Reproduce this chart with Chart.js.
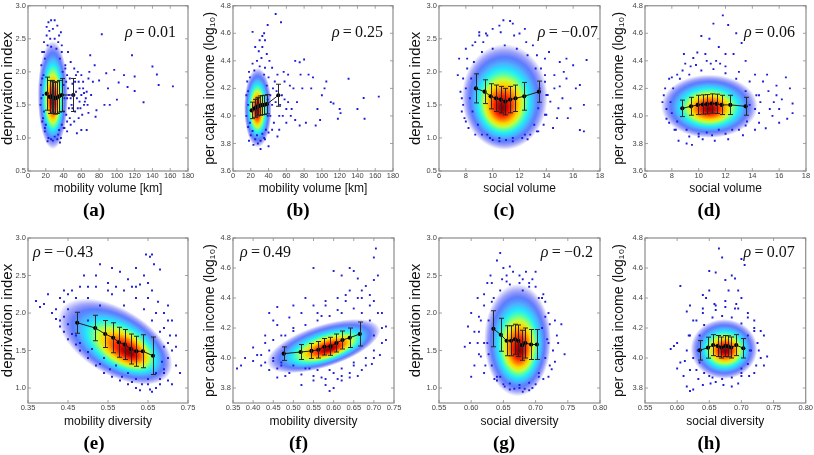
<!DOCTYPE html>
<html>
<head>
<meta charset="utf-8">
<script src="https://cdn.jsdelivr.net/npm/chart.js@4.4.0/dist/chart.umd.min.js"></script>
<style>
  html, body { margin: 0; padding: 0; background: #fff; }
  #figura { position: relative; width: 814px; height: 455px; }
  #figura canvas { position: absolute; }
</style>
</head>
<body>
<div id="figura">
  <canvas id="panelA" width="203" height="225" style="left:0;top:0"></canvas>
  <canvas id="panelB" width="205" height="225" style="left:203px;top:0"></canvas>
  <canvas id="panelC" width="204" height="225" style="left:408px;top:0"></canvas>
  <canvas id="panelD" width="202" height="225" style="left:612px;top:0"></canvas>
  <canvas id="panelE" width="203" height="230" style="left:0;top:225px"></canvas>
  <canvas id="panelF" width="205" height="230" style="left:203px;top:225px"></canvas>
  <canvas id="panelG" width="204" height="230" style="left:408px;top:225px"></canvas>
  <canvas id="panelH" width="202" height="230" style="left:612px;top:225px"></canvas>
</div>
<script>
// Marcas de los ejes
const ticksVolMov = [0, 20, 40, 60, 80, 100, 120, 140, 160, 180];
const ticksVolSoc = [6, 8, 10, 12, 14, 16, 18];
const ticksDivMovE = [0.35, 0.45, 0.55, 0.65, 0.75];
const ticksDivMovF = [0.35, 0.40, 0.45, 0.50, 0.55, 0.60, 0.65, 0.70, 0.75];
const ticksDivSoc = [0.55, 0.60, 0.65, 0.70, 0.75, 0.80];
const ticksPriv = [0.5, 1.0, 1.5, 2.0, 2.5, 3.0];
const ticksPrivB = [1.0, 1.5, 2.0, 2.5, 3.0];
const ticksIngreso = [3.6, 3.8, 4.0, 4.2, 4.4, 4.6, 4.8];
const ticksIngresoB = [3.8, 4.0, 4.2, 4.4, 4.6, 4.8];

// Correlaciones
const rhos = ['0.01', '0.25', '\u22120.07', '0.06', '\u22120.43', '0.49', '\u22120.2', '0.07'];

// (a) volumen de movilidad vs privacion
const nubeA = [[83,2.57],[117,2.25],[140,2.08],[145,1.96],[163,1.78],[147,1.8],[130,1.54],[120,1.71],[112,1.77],[97,2.03],
  [102,1.84],[100,1.58],[92,1.5],[86,1.5],[88,1.98],[77,1.42],[76,1.32],[120,1.93],[108,1.95],[90,1.75],[80,1.87],[75,2.1],
  [70,2.25],[66,1.12],[60,1.12],[55,1.07],[68,1.9],[62,1.75],[58,1.55],[65,1.6],[48,1.2],[52,2.05],[45,2.3],[37,2.6],
  [30,2.78],[26,2.78],[23,2.75],[21,2.68],[33,2.7],[38,2.4],[18,2.3],[16,1.9],[15,1.6],[17,1.3],[19,1.15],[22,0.95],
  [26,0.98],[30,1.02],[34,1.05],[40,1.15],[44,1.25],[48,1.6],[50,1.82],[42,2.05],[53,1.4],[57,1.3],[46,1.45],[54,1.7],
  [60,1.95],[63,1.5],[68,1.38],[14,1.5],[14.5,1.8],[15,2.1],[16,2.3],[18,2.45],[21,2.55],[25,2.5],[30,2.5],[34,2.45],
  [38,2.3],[42,2.1],[43,1.85],[44,1.6],[43,1.35],[41,1.15],[37,1.0],[33,0.98],[28,0.96],[23,1.0],[19,1.1],[16,1.25],
  [45,1.75],[47,1.9],[49,1.5],[51,1.65],[53,1.85],[55,1.6],[56,1.45],[58,1.75],[60,1.65],[62,1.85],[64,1.55],[66,1.7],
  [47,1.3],[52,1.25],[44,1.95],[48,2.15],[56,2.0],[61,1.35],
  [36,2.2],[39,2.0],[40,1.8],[41,1.6],[40,1.4],[38,1.2],[35,1.12],[20,1.2],[18,1.4],[17,1.65],[17.5,1.95],[19,2.2],
  [22,2.4],[26,2.38],[32,2.35],[35,2.55],[24,2.62],[28,2.65],[46,1.65],[50,1.45],[54,1.95],[57,1.85],[59,1.45],[63,1.68],
  [67,1.5],[71,1.65],[73,1.85],[69,2.0],[44,1.1],[36,0.93]];
const mediaXA = [21, 24.5, 26.5, 28.5, 30.5, 32.5, 35, 38, 51];
const mediaYA = [1.67, 1.62, 1.63, 1.61, 1.60, 1.61, 1.63, 1.65, 1.65];
const desvA = [0.25, 0.25, 0.24, 0.24, 0.24, 0.24, 0.24, 0.25, 0.25];
const nucleoA = [28, 1.65], mayorA = [0, 0.82], menorA = [17, 0], focoA = [28, 1.55];

// (b) volumen de movilidad vs ingreso
const nubeB = [[48,4.74],[54,4.68],[39,4.66],[22,4.61],[33,4.58],[35,4.6],[30,4.55],[130,4.27],[164,4.14],[147,4.13],
  [148,3.98],[140,4.05],[120,4.05],[121,4.02],[118,3.98],[105,4.25],[103,4.2],[100,4.15],[95,4.05],[98,3.97],[93,3.93],
  [80,4.41],[75,4.39],[70,4.4],[85,4.3],[90,4.28],[88,4.2],[78,4.2],[82,3.95],[75,3.93],[70,3.97],[65,4.0],[60,4.05],
  [68,4.2],[62,4.3],[57,4.32],[113,4.09],[110,4.1],[23,3.79],[28,3.8],[40,3.78],[18,3.82],[35,3.84],[52,3.9],
  [15,4.0],[15,4.15],[16,4.25],[18,4.32],[22,4.38],[27,4.4],[32,4.42],[36,4.35],[40,4.28],[42,4.15],[42,4.0],[40,3.88],
  [36,3.83],[31,3.82],[25,3.83],[20,3.86],[17,3.92],[33,4.5],[29,4.47],[36,4.55],[45,4.2],[48,4.1],[50,4.3],[52,4.0],
  [55,4.15],[58,4.25],[46,3.95],[44,4.35],[62,4.1],[60,3.95],
  [17,4.08],[17,4.18],[19,4.28],[24,4.33],[30,4.36],[35,4.3],[38,4.22],[39,4.12],[39,4.0],[37,3.9],[33,3.87],[27,3.86],
  [22,3.89],[19,3.95],[44,4.08],[47,4.25],[49,4.18],[53,4.08],[56,4.0],[58,4.12],[64,4.22],[66,4.05],[72,4.1],[76,4.3],
  [25,4.5],[38,4.45],[41,4.4],[44,3.9],[50,3.85],[31,3.76]];
const mediaXB = [21, 24.5, 26.5, 28.5, 30.5, 32.5, 35, 38, 51];
const mediaYB = [4.04, 4.055, 4.065, 4.07, 4.075, 4.078, 4.08, 4.085, 4.15];
const desvB = [0.06, 0.065, 0.065, 0.065, 0.07, 0.07, 0.07, 0.07, 0.08];
const nucleoB = [28, 4.06], mayorB = [0, 0.29], menorB = [15.5, 0], focoB = [27, 4.04];

// (c) volumen social vs privacion
const nubeC = [[10.8,2.78],[11.3,2.77],[11.5,2.73],[10.5,2.7],[10.0,2.65],[9.5,2.58],[12,2.58],[9.0,2.55],[7.5,2.2],
  [7.4,1.95],[7.6,1.7],[7.8,1.5],[7.9,1.3],[8.2,1.15],[8.0,2.35],[8.5,2.4],[9.2,1.05],[9.8,1.0],[10.5,0.95],[11.0,0.97],
  [11.5,0.95],[12.2,1.0],[12.8,1.05],[13.3,1.1],[14.2,2.3],[15,2.15],[15.5,2.2],[16,2.1],[17,2.18],[16.5,1.8],[16.8,1.5],
  [16.5,1.12],[16.8,1.1],[15.8,1.45],[15.2,1.6],[14.8,1.3],[14.5,1.15],[16.2,1.75],[15.5,1.9],[14.6,1.95],[14.3,1.55],
  [14.0,1.35],[13.8,1.2],[13.6,2.05],[13.9,1.85],[15.0,1.78],[8.3,1.6],[8.4,1.9],[8.6,2.15],[9.2,2.3],[10,2.35],
  [10.9,2.4],[11.8,2.35],[12.6,2.25],[13.2,2.05],[13.5,1.75],[13.4,1.45],[13.1,1.2],[12.4,1.05],[11.5,1.0],[10.5,1.0],
  [9.6,1.05],[8.9,1.2],[8.5,1.4],[8.0,1.75],[8.1,2.05],[13.0,2.4],[9.3,2.45],[14.0,1.65],[13.9,2.2],
  [7.7,1.6],[7.8,1.9],[8.1,2.2],[8.7,2.45],[9.6,2.55],[10.6,2.6],[11.6,2.55],[12.5,2.45],[13.3,2.25],[13.9,1.95],
  [14.1,1.65],[13.9,1.35],[13.4,1.1],[12.6,0.98],[10.0,0.97],[8.7,1.05],[8.0,1.25],[7.7,1.4],[14.6,1.75],[15.3,2.0],
  [14.9,1.45],[15.6,1.3],[9.0,2.6],[12.4,2.65]];
const mediaXC = [8.75, 9.4, 9.85, 10.25, 10.6, 10.95, 11.3, 11.7, 12.35, 13.45];
const mediaYC = [1.75, 1.70, 1.63, 1.60, 1.58, 1.55, 1.58, 1.60, 1.63, 1.70];
const desvC = [0.22, 0.18, 0.19, 0.2, 0.2, 0.2, 0.2, 0.2, 0.21, 0.16];
const nucleoC = [10.9, 1.62], mayorC = [0, 0.8], menorC = [3.2, 0], focoC = [10.7, 1.45];

// (d) volumen social vs ingreso
const nubeD = [[11.8,4.73],[11.1,4.67],[12.2,4.66],[10.2,4.58],[10.8,4.56],[12.8,4.6],[9.9,4.46],[9.6,4.42],[13.2,4.53],
  [11.5,4.5],[12.0,4.45],[10.5,4.45],[11.3,4.4],[9.0,4.38],[13.5,4.4],[8.4,4.3],[7.8,4.27],[7.4,4.15],[7.6,4.05],[7.8,3.95],
  [8.2,3.9],[8.5,3.82],[9.1,3.8],[9.5,3.79],[10,3.85],[10.6,3.88],[11.5,3.9],[12.5,3.9],[13.5,3.93],[14.5,3.95],[15,3.91],
  [15.5,4.0],[16,4.05],[16.6,3.98],[17.0,4.02],[16.5,4.28],[16.8,4.2],[15.8,4.22],[15.2,4.18],[14.8,4.25],[14.2,4.3],
  [16.2,4.12],[15.6,4.1],[14.6,4.1],[17,4.09],[16.0,3.95],[7.9,4.1],[8.1,4.2],[8.6,4.27],[9.3,4.3],[10.2,4.33],[11.1,4.34],
  [12.0,4.31],[12.8,4.27],[13.5,4.18],[13.8,4.08],[13.6,3.96],[13,3.9],[12,3.87],[11,3.86],[10,3.87],[9.1,3.9],[8.4,3.96],
  [8.0,4.02],[14.2,4.05],[14.5,4.15],[11.6,4.38],[10.6,4.4],[9.4,4.36],
  [7.3,4.1],[7.5,4.2],[8.0,4.28],[8.8,4.33],[9.8,4.37],[10.9,4.38],[12.0,4.36],[13.0,4.32],[13.8,4.25],[14.3,4.15],
  [14.5,4.02],[14.2,3.9],[13.3,3.86],[12.2,3.83],[11.2,3.82],[10.3,3.83],[9.3,3.85],[8.3,3.9],[7.6,3.98],[15.3,4.05],
  [15.8,4.15],[15.1,4.3],[12.6,4.45],[8.9,4.45]];
const mediaXD = [8.78, 9.43, 9.93, 10.3, 10.62, 10.97, 11.34, 11.71, 12.36, 13.5];
const mediaYD = [4.055, 4.07, 4.08, 4.083, 4.085, 4.09, 4.088, 4.08, 4.08, 4.07];
const desvD = [0.06, 0.065, 0.07, 0.07, 0.07, 0.07, 0.07, 0.07, 0.07, 0.065];
const nucleoD = [10.8, 4.07], mayorD = [3.6, 0], menorD = [0, 0.23], focoD = [10.8, 4.05];

// (e) diversidad de movilidad vs privacion
const nubeE = [[0.37,2.16],[0.38,2.08],[0.39,2.12],[0.40,2.25],[0.41,2.0],[0.42,1.92],[0.43,2.2],[0.44,2.15],[0.45,1.85],
  [0.46,2.3],[0.44,1.75],[0.43,1.82],[0.47,1.7],[0.45,2.25],[0.52,2.5],[0.53,2.65],[0.56,2.6],[0.58,2.55],[0.60,2.45],
  [0.62,2.6],[0.64,2.5],[0.645,2.78],[0.655,2.75],[0.66,2.78],[0.665,2.65],[0.68,2.58],[0.63,2.38],[0.55,2.4],[0.57,2.35],
  [0.50,2.35],[0.49,2.5],[0.70,2.1],[0.71,1.9],[0.72,1.7],[0.71,1.5],[0.72,1.3],[0.73,1.2],[0.70,1.1],[0.69,1.2],[0.70,1.6],
  [0.69,2.0],[0.62,1.0],[0.63,0.97],[0.66,0.95],[0.60,1.05],[0.58,1.1],[0.56,1.15],[0.54,1.2],[0.52,1.3],[0.50,1.4],
  [0.48,1.5],[0.67,1.0],[0.65,1.05],[0.68,1.05],[0.45,2.05],[0.47,2.2],[0.50,2.2],[0.53,2.1],[0.56,2.25],[0.59,2.1],
  [0.62,2.2],[0.64,2.05],[0.66,1.9],[0.68,1.75],[0.69,1.55],[0.685,1.35],[0.67,1.2],[0.65,1.12],[0.62,1.12],[0.60,1.2],
  [0.57,1.3],[0.54,1.4],[0.51,1.52],[0.48,1.6],[0.46,1.72],[0.44,1.95],[0.66,2.3],[0.65,2.4],[0.61,2.35],[0.70,1.9],
  [0.675,2.15],[0.5,1.9],
  [0.42,2.05],[0.44,2.3],[0.48,2.35],[0.52,2.35],[0.55,2.3],[0.59,2.3],[0.62,2.35],[0.65,2.2],[0.67,2.0],[0.69,1.8],
  [0.705,1.7],[0.70,1.4],[0.69,1.25],[0.68,1.12],[0.655,0.98],[0.635,1.05],[0.61,1.08],[0.585,1.15],[0.555,1.25],
  [0.53,1.32],[0.50,1.48],[0.47,1.58],[0.45,1.65],[0.43,1.9],[0.72,1.55],[0.71,1.05]];
const mediaXE = [0.473, 0.518, 0.543, 0.563, 0.577, 0.592, 0.607, 0.621, 0.637, 0.6625];
const mediaYE = [1.87, 1.80, 1.72, 1.67, 1.61, 1.58, 1.52, 1.49, 1.49, 1.43];
const desvE = [0.14, 0.17, 0.18, 0.2, 0.2, 0.2, 0.2, 0.2, 0.22, 0.25];
const nucleoE = [0.568, 1.62], mayorE = [0.135, -0.445], menorE = [0.047, 0.365], focoE = [0.605, 1.47];

// (f) diversidad de movilidad vs ingreso
const nubeF = [[0.705,4.73],[0.70,4.67],[0.71,4.55],[0.70,4.52],[0.64,4.6],[0.65,4.58],[0.60,4.58],[0.62,4.55],[0.66,4.53],
  [0.68,4.48],[0.55,4.6],[0.46,4.34],[0.44,4.3],[0.45,4.25],[0.50,4.35],[0.53,4.4],[0.36,3.93],[0.37,3.95],[0.40,4.07],
  [0.41,4.02],[0.42,3.95],[0.38,4.0],[0.43,4.1],[0.44,3.92],[0.46,3.87],[0.48,3.88],[0.52,3.82],[0.55,3.85],[0.58,3.82],
  [0.59,3.78],[0.60,3.8],[0.62,3.85],[0.64,3.87],[0.66,3.88],[0.68,3.95],[0.70,4.0],[0.72,4.2],[0.73,4.21],[0.72,4.1],
  [0.71,4.3],[0.69,4.35],[0.67,4.4],[0.63,4.42],[0.58,4.35],[0.56,4.3],[0.50,4.2],[0.48,4.15],[0.47,3.95],[0.45,4.0],
  [0.60,3.9],[0.65,3.95],[0.54,3.93],[0.57,4.28],[0.61,4.32],[0.44,4.05],[0.45,4.12],[0.47,4.15],[0.50,4.18],[0.53,4.22],
  [0.56,4.25],[0.59,4.28],[0.62,4.3],[0.65,4.33],[0.67,4.3],[0.69,4.25],[0.70,4.15],[0.70,4.05],[0.68,4.0],[0.65,3.97],
  [0.62,3.93],[0.59,3.92],[0.56,3.92],[0.53,3.93],[0.50,3.95],[0.47,3.97],[0.45,3.98],[0.66,4.4],[0.69,4.42],[0.63,4.38],
  [0.57,3.87],[0.62,3.88],
  [0.42,4.02],[0.43,4.15],[0.46,4.22],[0.49,4.27],[0.52,4.3],[0.55,4.35],[0.58,4.38],[0.61,4.4],[0.64,4.45],[0.67,4.45],
  [0.70,4.38],[0.72,4.3],[0.715,4.02],[0.695,3.96],[0.67,3.92],[0.64,3.9],[0.61,3.86],[0.58,3.86],[0.55,3.88],[0.52,3.89],
  [0.49,3.9],[0.46,3.93],[0.43,3.97],[0.40,3.98],[0.73,4.12]];
const mediaXF = [0.476, 0.518, 0.545, 0.562, 0.577, 0.592, 0.607, 0.622, 0.64, 0.665];
const mediaYF = [4.029, 4.04, 4.047, 4.055, 4.075, 4.078, 4.10, 4.12, 4.135, 4.16];
const desvF = [0.045, 0.05, 0.05, 0.055, 0.055, 0.06, 0.06, 0.06, 0.065, 0.08];
const nucleoF = [0.575, 4.08], mayorF = [0.14, 0.12], menorF = [-0.016, 0.135], focoF = [0.59, 4.06];

// (g) diversidad social vs privacion
const nubeG = [[0.59,1.55],[0.595,1.82],[0.60,2.0],[0.60,1.15],[0.605,1.3],[0.61,2.2],[0.615,1.9],[0.62,1.6],[0.625,2.4],
  [0.63,2.5],[0.64,2.7],[0.645,2.8],[0.65,2.6],[0.655,2.42],[0.66,2.62],[0.675,2.5],[0.685,2.55],[0.70,2.55],[0.69,2.4],
  [0.71,2.2],[0.715,2.15],[0.72,2.0],[0.73,1.9],[0.74,1.85],[0.745,1.45],[0.735,1.6],[0.73,1.35],[0.72,1.15],[0.725,1.25],
  [0.70,1.05],[0.69,0.97],[0.68,0.95],[0.675,1.0],[0.66,0.98],[0.65,1.05],[0.64,1.1],[0.62,1.2],[0.615,1.42],[0.612,1.75],
  [0.71,1.8],[0.72,1.6],[0.705,1.15],[0.635,2.2],[0.64,1.15],[0.625,1.6],[0.627,1.9],[0.632,2.15],[0.645,2.3],[0.66,2.38],
  [0.675,2.4],[0.69,2.35],[0.705,2.2],[0.715,1.95],[0.718,1.65],[0.715,1.4],[0.705,1.2],[0.69,1.07],[0.675,1.04],
  [0.66,1.06],[0.645,1.15],[0.632,1.3],[0.627,1.45],[0.655,2.5],[0.695,2.45],[0.68,2.3],
  [0.61,1.6],[0.612,1.95],[0.62,2.25],[0.632,2.4],[0.648,2.45],[0.665,2.55],[0.68,2.45],[0.70,2.35],[0.712,2.25],
  [0.722,1.85],[0.727,1.5],[0.722,1.3],[0.712,1.12],[0.695,1.0],[0.683,0.99],[0.667,0.99],[0.652,1.02],[0.636,1.12],
  [0.622,1.3],[0.612,1.45],[0.605,1.75],[0.598,1.6],[0.733,1.7],[0.62,2.1]];
const mediaXG = [0.6345, 0.646, 0.655, 0.662, 0.668, 0.673, 0.679, 0.684, 0.693, 0.702];
const mediaYG = [1.79, 1.71, 1.63, 1.63, 1.65, 1.63, 1.57, 1.60, 1.58, 1.58];
const desvG = [0.24, 0.22, 0.2, 0.2, 0.2, 0.21, 0.2, 0.2, 0.2, 0.2];
const nucleoG = [0.672, 1.64], mayorG = [0, 0.75], menorG = [0.052, 0], focoG = [0.675, 1.5];

// (h) diversidad social vs ingreso
const nubeH = [[0.665,4.73],[0.67,4.67],[0.70,4.66],[0.705,4.62],[0.65,4.58],[0.66,4.57],[0.675,4.52],[0.685,4.55],
  [0.69,4.53],[0.605,4.48],[0.645,4.4],[0.68,4.45],[0.70,4.4],[0.64,4.42],[0.62,4.35],[0.615,4.31],[0.59,4.06],[0.595,4.08],
  [0.60,3.93],[0.605,3.97],[0.61,3.88],[0.615,3.81],[0.62,3.78],[0.625,3.79],[0.64,3.82],[0.66,3.84],[0.685,3.81],
  [0.70,3.88],[0.72,3.9],[0.735,3.95],[0.74,4.01],[0.735,4.15],[0.73,4.18],[0.72,4.25],[0.71,4.3],[0.695,4.33],[0.66,4.35],
  [0.63,4.25],[0.62,4.15],[0.625,4.0],[0.63,3.92],[0.65,3.88],[0.70,3.93],[0.725,4.1],[0.715,4.05],[0.632,4.05],
  [0.635,4.15],[0.642,4.22],[0.655,4.27],[0.67,4.28],[0.685,4.27],[0.70,4.23],[0.71,4.15],[0.713,4.05],[0.71,3.96],
  [0.70,3.9],[0.685,3.87],[0.67,3.86],[0.655,3.87],[0.642,3.9],[0.635,3.97],[0.66,4.32],[0.69,4.33],[0.675,4.38],
  [0.64,4.3],[0.72,4.2],
  [0.615,4.05],[0.618,4.15],[0.625,4.25],[0.64,4.33],[0.658,4.36],[0.675,4.34],[0.692,4.36],[0.71,4.27],[0.72,4.18],
  [0.727,4.05],[0.723,3.95],[0.712,3.88],[0.695,3.83],[0.672,3.82],[0.652,3.83],[0.633,3.86],[0.62,3.92],[0.612,3.98],
  [0.60,4.1],[0.73,4.0],[0.65,4.45],[0.695,4.45]];
const mediaXH = [0.635, 0.648, 0.656, 0.663, 0.669, 0.675, 0.679, 0.684, 0.692, 0.703];
const mediaYH = [4.051, 4.069, 4.086, 4.08, 4.07, 4.08, 4.078, 4.07, 4.086, 4.065];
const desvH = [0.065, 0.07, 0.07, 0.07, 0.07, 0.07, 0.07, 0.07, 0.07, 0.065];
const nucleoH = [0.673, 4.06], mayorH = [0.052, 0], menorH = [0, 0.2], focoH = [0.675, 4.05];

const SANS = '"Liberation Sans", Arial, sans-serif';
const SERIF = '"Liberation Serif", "Times New Roman", serif';

// Colores tipo "jet" para la densidad (el borde se desvanece como el moteado azul)
const paradasJet = [
  [0.00, '#7a0000'], [0.10, '#c00000'], [0.20, '#ff2a00'], [0.29, '#ff8800'],
  [0.37, '#ffd800'], [0.45, '#c0ff40'], [0.53, '#50ffb0'], [0.61, '#20e6ff'],
  [0.70, 'rgba(70,170,255,0.95)'], [0.80, 'rgba(40,80,255,0.75)'],
  [0.90, 'rgba(30,40,240,0.4)'], [1.00, 'rgba(30,30,230,0)']
];

// Plugin con la densidad, las barras de error, el marco y la rho
function adornos(p) {
  return {
    id: 'adornos',
    beforeDatasetsDraw(chart) {
      const {ctx, chartArea: a, scales: {x, y}} = chart;
      const X = x.getPixelForValue(p.nucleo[0]), Y = y.getPixelForValue(p.nucleo[1]);
      const U = [x.getPixelForValue(p.nucleo[0] + p.mayor[0]) - X, y.getPixelForValue(p.nucleo[1] + p.mayor[1]) - Y];
      const V = [x.getPixelForValue(p.nucleo[0] + p.menor[0]) - X, y.getPixelForValue(p.nucleo[1] + p.menor[1]) - Y];
      const F = [x.getPixelForValue(p.foco[0]) - X, y.getPixelForValue(p.foco[1]) - Y];
      const det = U[0] * V[1] - U[1] * V[0];
      const fa = (F[0] * V[1] - F[1] * V[0]) / det, fb = (U[0] * F[1] - U[1] * F[0]) / det;
      ctx.save();
      ctx.beginPath(); ctx.rect(a.left, a.top, a.width, a.height); ctx.clip();
      ctx.transform(U[0], U[1], V[0], V[1], X, Y);
      const g = ctx.createRadialGradient(fa, fb, 0, 0, 0, 1);
      paradasJet.forEach(s => g.addColorStop(s[0], s[1]));
      ctx.fillStyle = g;
      ctx.beginPath(); ctx.arc(0, 0, 1, 0, Math.PI * 2); ctx.fill();
      ctx.restore();
    },
    afterDatasetDraw(chart, args) {
      if (args.index !== 0) return;
      const {ctx, scales: {x, y}} = chart;
      ctx.save();
      ctx.strokeStyle = '#262626';
      ctx.lineWidth = 1;
      p.mediaX.forEach((mx, i) => {
        const px = Math.round(x.getPixelForValue(mx)) + 0.5;
        const y1 = y.getPixelForValue(p.mediaY[i] + p.desv[i]);
        const y2 = y.getPixelForValue(p.mediaY[i] - p.desv[i]);
        ctx.beginPath();
        ctx.moveTo(px, y1); ctx.lineTo(px, y2);
        ctx.moveTo(px - 2.5, y1); ctx.lineTo(px + 2.5, y1);
        ctx.moveTo(px - 2.5, y2); ctx.lineTo(px + 2.5, y2);
        ctx.stroke();
      });
      ctx.restore();
    },
    afterDraw(chart) {
      const {ctx, chartArea: a, scales: {x, y}} = chart;
      ctx.save();
      // marco gris con marcas hacia dentro
      ctx.strokeStyle = '#8c8c8c';
      ctx.lineWidth = 1.2;
      ctx.strokeRect(a.left, a.top, a.width, a.height);
      ctx.lineWidth = 0.8;
      ctx.beginPath();
      x.ticks.forEach(t => {
        const px = x.getPixelForValue(t.value);
        ctx.moveTo(px, a.bottom); ctx.lineTo(px, a.bottom - 3);
        ctx.moveTo(px, a.top); ctx.lineTo(px, a.top + 3);
      });
      y.ticks.forEach(t => {
        const py = y.getPixelForValue(t.value);
        ctx.moveTo(a.left, py); ctx.lineTo(a.left + 3, py);
        ctx.moveTo(a.right, py); ctx.lineTo(a.right - 3, py);
      });
      ctx.stroke();
      // coeficiente rho
      ctx.fillStyle = '#111';
      ctx.textBaseline = 'middle';
      const resto = '\u2009=\u2009' + p.rho;
      ctx.font = 'italic 16px ' + SERIF;
      const w1 = ctx.measureText('\u03c1').width;
      ctx.font = '16px ' + SERIF;
      const w2 = ctx.measureText(resto).width;
      const x0 = p.rhoLado === 'der' ? a.right - p.rhoDx - w1 - w2 : a.left + p.rhoDx;
      const y0 = a.top + p.rhoDy;
      ctx.font = 'italic 16px ' + SERIF;
      ctx.fillText('\u03c1', x0, y0);
      ctx.font = '16px ' + SERIF;
      ctx.fillText(resto, x0 + w1, y0);
      ctx.restore();
    }
  };
}

function crearPanel(id, p) {
  const ctx = document.getElementById(id).getContext('2d');
  return new Chart(ctx, {
    type: 'scatter',
    data: {
      datasets: [{
        data: p.nube.map(d => ({x: d[0], y: d[1]})),
        backgroundColor: '#1c1cd8',
        borderWidth: 0,
        pointStyle: 'rect',
        pointRadius: 1.35
      }, {
        data: p.mediaX.map((v, i) => ({x: v, y: p.mediaY[i]})),
        showLine: true,
        borderColor: '#1a1a1a',
        borderWidth: 1,
        backgroundColor: '#000',
        pointRadius: 2.1,
        pointBorderWidth: 0
      }]
    },
    options: {
      responsive: false,
      animation: false,
      events: [],
      layout: { padding: { left: 0, right: p.padDer, top: p.padArriba, bottom: p.padAbajo } },
      scales: {
        x: {
          min: p.rangoX[0], max: p.rangoX[1],
          afterBuildTicks: s => { s.ticks = p.ticksX.map(v => ({value: v})); },
          afterFit: s => { s.height = p.altoX; },
          grid: { display: false, drawTicks: false },
          border: { display: false },
          ticks: { padding: 1, color: '#444', font: { size: 7.5, family: SANS, lineHeight: 1 },
                   maxRotation: 0, autoSkip: false, callback: v => Number(v).toFixed(p.decX) },
          title: { display: true, text: p.tituloX, color: '#111', padding: 0,
                   font: { size: 12, family: SANS, lineHeight: 1 } }
        },
        y: {
          min: p.rangoY[0], max: p.rangoY[1],
          afterBuildTicks: s => { s.ticks = p.ticksY.map(v => ({value: v})); },
          afterFit: s => { s.width = p.anchoY; },
          grid: { display: false, drawTicks: false },
          border: { display: false },
          ticks: { padding: 2, color: '#444', font: { size: 7.5, family: SANS, lineHeight: 1 },
                   autoSkip: false, callback: v => Number(v).toFixed(1) },
          title: { display: true, text: p.tituloY, color: '#111', padding: 0,
                   font: { size: p.tamTituloY, family: SANS, lineHeight: 1 } }
        }
      },
      plugins: {
        legend: { display: false },
        tooltip: { enabled: false },
        title: { display: true, position: 'bottom', text: p.etiqueta, color: '#000',
                 padding: { top: 7, bottom: 0 },
                 font: { size: 19, weight: 'bold', family: SERIF, lineHeight: 1 } }
      }
    },
    plugins: [adornos(p)]
  });
}

const arriba = { padArriba: 4, padAbajo: 4, altoX: 24, rhoDy: 27 };
const abajo = { padArriba: 13, padAbajo: 1, altoX: 25, rhoDy: 15 };
const tPriv = 'deprivation index', tIng = 'per capita income (log\u2081\u2080)';

crearPanel('panelA', { ...arriba, nube: nubeA, mediaX: mediaXA, mediaY: mediaYA, desv: desvA,
  nucleo: nucleoA, mayor: mayorA, menor: menorA, foco: focoA, rangoX: [0, 180], rangoY: [0.5, 3.0],
  ticksX: ticksVolMov, ticksY: ticksPriv, decX: 0, tituloX: 'mobility volume [km]', tituloY: tPriv, tamTituloY: 15,
  etiqueta: '(a)', rho: rhos[0], rhoLado: 'der', rhoDx: 12, anchoY: 28, padDer: 15 });
crearPanel('panelB', { ...arriba, nube: nubeB, mediaX: mediaXB, mediaY: mediaYB, desv: desvB,
  nucleo: nucleoB, mayor: mayorB, menor: menorB, foco: focoB, rangoX: [0, 180], rangoY: [3.6, 4.8],
  ticksX: ticksVolMov, ticksY: ticksIngreso, decX: 0, tituloX: 'mobility volume [km]', tituloY: tIng, tamTituloY: 14,
  etiqueta: '(b)', rho: rhos[1], rhoLado: 'der', rhoDx: 10, anchoY: 30, padDer: 15 });
crearPanel('panelC', { ...arriba, nube: nubeC, mediaX: mediaXC, mediaY: mediaYC, desv: desvC,
  nucleo: nucleoC, mayor: mayorC, menor: menorC, foco: focoC, rangoX: [6, 18], rangoY: [0.5, 3.0],
  ticksX: ticksVolSoc, ticksY: ticksPriv, decX: 0, tituloX: 'social volume', tituloY: tPriv, tamTituloY: 15,
  etiqueta: '(c)', rho: rhos[2], rhoLado: 'der', rhoDx: 2, anchoY: 31, padDer: 12 });
crearPanel('panelD', { ...arriba, nube: nubeD, mediaX: mediaXD, mediaY: mediaYD, desv: desvD,
  nucleo: nucleoD, mayor: mayorD, menor: menorD, foco: focoD, rangoX: [6, 18], rangoY: [3.6, 4.8],
  ticksX: ticksVolSoc, ticksY: ticksIngreso, decX: 0, tituloX: 'social volume', tituloY: tIng, tamTituloY: 14,
  etiqueta: '(d)', rho: rhos[3], rhoLado: 'der', rhoDx: 11, anchoY: 33, padDer: 8 });
crearPanel('panelE', { ...abajo, nube: nubeE, mediaX: mediaXE, mediaY: mediaYE, desv: desvE,
  nucleo: nucleoE, mayor: mayorE, menor: menorE, foco: focoE, rangoX: [0.35, 0.75], rangoY: [0.8, 3.0],
  ticksX: ticksDivMovE, ticksY: ticksPrivB, decX: 2, tituloX: 'mobility diversity', tituloY: tPriv, tamTituloY: 15,
  etiqueta: '(e)', rho: rhos[4], rhoLado: 'izq', rhoDx: 5, anchoY: 28, padDer: 15 });
crearPanel('panelF', { ...abajo, nube: nubeF, mediaX: mediaXF, mediaY: mediaYF, desv: desvF,
  nucleo: nucleoF, mayor: mayorF, menor: menorF, foco: focoF, rangoX: [0.35, 0.75], rangoY: [3.7, 4.8],
  ticksX: ticksDivMovF, ticksY: ticksIngresoB, decX: 2, tituloX: 'mobility diversity', tituloY: tIng, tamTituloY: 14,
  etiqueta: '(f)', rho: rhos[5], rhoLado: 'izq', rhoDx: 7, anchoY: 30, padDer: 14 });
crearPanel('panelG', { ...abajo, nube: nubeG, mediaX: mediaXG, mediaY: mediaYG, desv: desvG,
  nucleo: nucleoG, mayor: mayorG, menor: menorG, foco: focoG, rangoX: [0.55, 0.80], rangoY: [0.8, 3.0],
  ticksX: ticksDivSoc, ticksY: ticksPrivB, decX: 2, tituloX: 'social diversity', tituloY: tPriv, tamTituloY: 15,
  etiqueta: '(g)', rho: rhos[6], rhoLado: 'der', rhoDx: 7, anchoY: 31, padDer: 12 });
crearPanel('panelH', { ...abajo, nube: nubeH, mediaX: mediaXH, mediaY: mediaYH, desv: desvH,
  nucleo: nucleoH, mayor: mayorH, menor: menorH, foco: focoH, rangoX: [0.55, 0.80], rangoY: [3.7, 4.8],
  ticksX: ticksDivSoc, ticksY: ticksIngresoB, decX: 2, tituloX: 'social diversity', tituloY: tIng, tamTituloY: 14,
  etiqueta: '(h)', rho: rhos[7], rhoLado: 'der', rhoDx: 11, anchoY: 33, padDer: 8 });
</script>
</body>
</html>
